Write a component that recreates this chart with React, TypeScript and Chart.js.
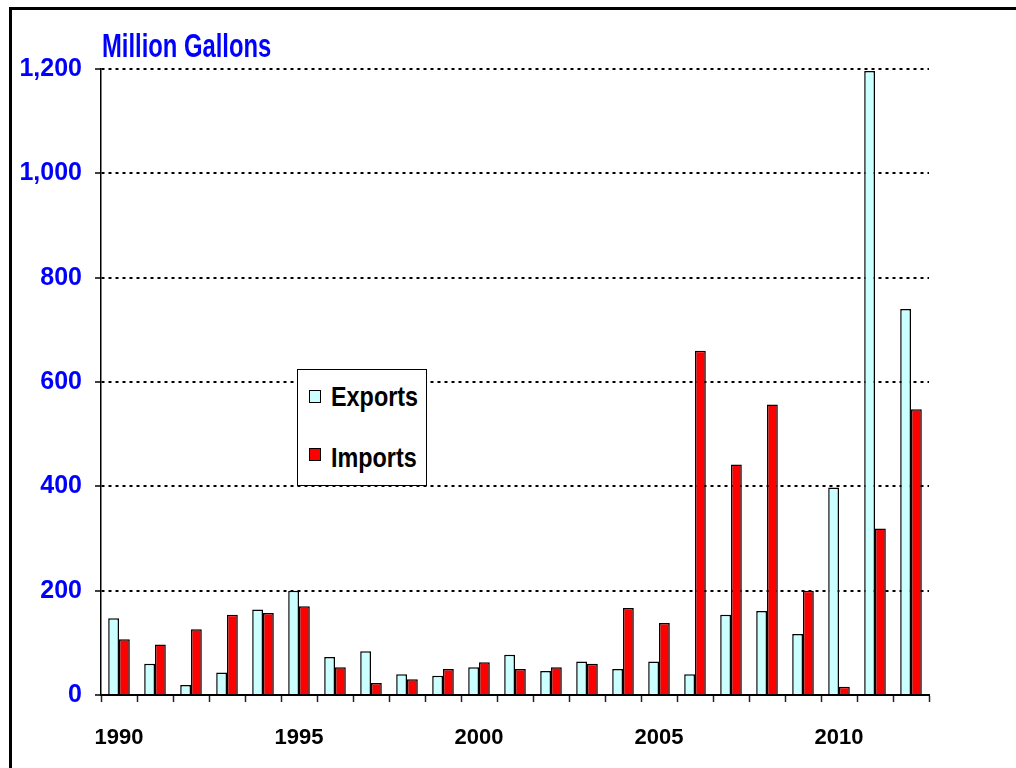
import React, { useEffect, useRef } from "react";
import { Chart, registerables } from "chart.js";

Chart.register(...registerables);

// ---- Data ----
const years = [
  "1990", "1991", "1992", "1993", "1994", "1995", "1996", "1997", "1998", "1999", "2000", "2001",
  "2002", "2003", "2004", "2005", "2006", "2007", "2008", "2009", "2010", "2011", "2012",
];
const labeledYears = ["1990", "1995", "2000", "2005", "2010"];
const exportsData = [147, 60, 19, 43, 164, 200, 73, 84, 40, 37, 53, 77, 46, 64, 50, 64, 40, 154, 161, 117, 398, 1196, 740];
const importsData = [107, 97, 126, 154, 157, 170, 53, 23, 30, 50, 63, 50, 53, 60, 167, 138, 660, 442, 557, 200, 16, 319, 548];
const seriesNames = ["Exports", "Imports"];
const seriesColors = ["#CCFFFF", "#FF0000"];
const yMin = 0;
const yMax = 1200;
const yStep = 200;
const unitTitle = "Million Gallons";

const NARROW = "'Liberation Sans Narrow', 'Arial Narrow', 'Liberation Sans', Arial, sans-serif";
const WIDE = "'Liberation Sans', Arial, sans-serif";

export default function App() {
  const canvasRef = useRef<HTMLCanvasElement | null>(null);

  useEffect(() => {
    if (!canvasRef.current) return;
    const chart = new Chart(canvasRef.current, {
      type: "bar",
      data: {
        labels: years,
        datasets: [
          {
            label: seriesNames[0],
            data: exportsData,
            backgroundColor: seriesColors[0],
            borderColor: "#000",
            borderWidth: 1.5,
          },
          {
            label: seriesNames[1],
            data: importsData,
            backgroundColor: seriesColors[1],
            borderColor: "#000",
            borderWidth: 1.5,
          },
        ],
      },
      options: {
        animation: false,
        responsive: true,
        maintainAspectRatio: false,
        devicePixelRatio: 1,
        layout: { padding: { top: 69, right: 87, bottom: 0, left: 0 } },
        datasets: { bar: { categoryPercentage: 0.6, barPercentage: 1 } },
        plugins: {
          legend: { display: false },
          tooltip: { enabled: false },
          title: { display: false },
        },
        scales: {
          x: {
            type: "category",
            offset: true,
            grid: {
              offset: true,
              drawOnChartArea: false,
              drawTicks: true,
              tickLength: 7,
              tickColor: "#222",
              tickWidth: 1.5,
            },
            border: { display: true, color: "#000", width: 2 },
            ticks: {
              autoSkip: false,
              maxRotation: 0,
              minRotation: 0,
              padding: 23,
              color: "#000",
              font: { family: NARROW, size: 22, weight: "bold" },
              callback: function (_v: any, i: number) {
                const l = years[i];
                return labeledYears.includes(l) ? l : "";
              },
            },
            afterFit: (s: any) => {
              s.height = 73;
              s.paddingLeft = 0;
              s.paddingRight = 0;
            },
          },
          y: {
            min: yMin,
            max: yMax,
            ticks: {
              stepSize: yStep,
              padding: 13,
              color: "#0000FF",
              font: { family: WIDE, size: 25, weight: "bold" },
              callback: (v: any) => Number(v).toLocaleString("en-US"),
            },
            grid: {
              color: "#000",
              lineWidth: 2,
              drawTicks: true,
              tickLength: 6,
              tickColor: "#000",
              tickWidth: 1.5,
              tickBorderDash: [],
            },
            border: { display: true, color: "#000", width: 1.5, dash: [3, 4] },
            afterFit: (s: any) => {
              s.width = 101;
              s.paddingTop = 0;
              s.paddingBottom = 0;
            },
          },
        },
      },
    } as any);
    return () => chart.destroy();
  }, []);

  return (
    <div
      style={{
        position: "fixed",
        left: 0,
        top: 0,
        width: 1016,
        height: 768,
        overflow: "hidden",
        background: "#fff",
      }}
    >
      <div
        style={{
          position: "absolute",
          left: 9,
          top: 7,
          width: 1200,
          height: 1000,
          borderLeft: "3px solid #000",
          borderTop: "3px solid #000",
        }}
      />
      <div style={{ position: "absolute", left: 0, top: 0, width: 1016, height: 768 }}>
        <canvas ref={canvasRef} />
      </div>
      <div
        style={{
          position: "absolute",
          left: 102,
          top: 28.2,
          fontFamily: NARROW,
          fontWeight: "bold",
          fontSize: 34,
          lineHeight: "34px",
          color: "#0000FF",
          whiteSpace: "nowrap",
          transform: "scaleX(0.70)",
          transformOrigin: "left top",
        }}
      >
        {unitTitle}
      </div>
      <div
        style={{
          position: "absolute",
          left: 297,
          top: 369,
          width: 128,
          height: 115,
          border: "1px solid #000",
          background: "#fff",
        }}
      >
        {seriesNames.map((name, i) => (
          <React.Fragment key={name}>
            <div
              style={{
                position: "absolute",
                left: 11,
                top: 20 + i * 58,
                width: 10,
                height: 11,
                border: "1px solid #000",
                background: seriesColors[i],
              }}
            />
            <div
              style={{
                position: "absolute",
                left: 33,
                top: 13.3 + i * 61,
                fontFamily: NARROW,
                fontWeight: "bold",
                fontSize: 28,
                lineHeight: "28px",
                color: "#000",
                whiteSpace: "nowrap",
                transform: "scaleX(0.835)",
                transformOrigin: "left top",
              }}
            >
              {name}
            </div>
          </React.Fragment>
        ))}
      </div>
    </div>
  );
}
